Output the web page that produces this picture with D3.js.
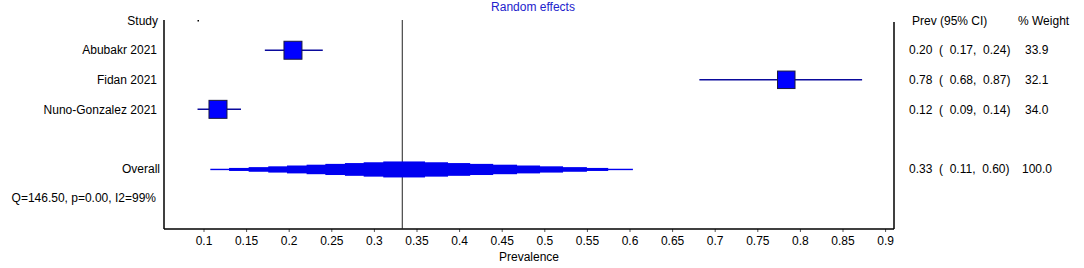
<!DOCTYPE html>
<html>
<head>
<meta charset="utf-8">
<script src="https://cdn.jsdelivr.net/npm/d3@7"></script>
<style>
  html, body { margin: 0; padding: 0; background: #fff; }
  svg { display: block; }
  text { font-family: "Liberation Sans", Arial, sans-serif; font-size: 12px; fill: #000; white-space: pre; }
</style>
</head>
<body>
<svg id="chart" width="1084" height="268"></svg>
<script>
// ---- data ----
const studies = ["Abubakr 2021", "Fidan 2021", "Nuno-Gonzalez 2021"];
const estimates = [0.205, 0.784, 0.117];
const lowerCI = [0.172, 0.682, 0.093];
const upperCI = [0.240, 0.873, 0.144];
const weights = [33.9, 32.1, 34.0];
const ciLabels = ["0.20  (  0.17,  0.24)", "0.78  (  0.68,  0.87)", "0.12  (  0.09,  0.14)"];
const weightLabels = ["33.9", "32.1", "34.0"];

const overallEstimate = 0.3333;
const overallLabel = "0.33  (  0.11,  0.60)";
const overallWeightLabel = "100.0";
// stepped overall band edges (inner to outer)
const overallBandLower = [0.311, 0.288, 0.266, 0.243, 0.221, 0.198, 0.176, 0.153, 0.130, 0.108];
const overallBandUpper = [0.360, 0.387, 0.413, 0.440, 0.468, 0.495, 0.522, 0.550, 0.575, 0.604];

const heterogeneity = "Q=146.50, p=0.00, I2=99%";
const xTicks = [0.1, 0.15, 0.2, 0.25, 0.3, 0.35, 0.4, 0.45, 0.5, 0.55, 0.6, 0.65, 0.7, 0.75, 0.8, 0.85, 0.9];
const tickLabels = ["0.1", "0.15", "0.2", "0.25", "0.3", "0.35", "0.4", "0.45", "0.5", "0.55", "0.6", "0.65", "0.7", "0.75", "0.8", "0.85", "0.9"];

// ---- layout ----
const svg = d3.select("#chart");
svg.append("rect").attr("width", 1084).attr("height", 268).attr("fill", "#fff");

const plotLeft = 164, plotRight = 894, plotTop = 20, plotBottom = 229;
const x = d3.scaleLinear().domain([0.1, 0.9]).range([203.5, 885.1]);
const rows = ["Study", ...studies, "_gap", "Overall", "_Q"];
const y = d3.scalePoint().domain(rows).range([20.7, 198]);
const size = d3.scaleSqrt().domain([0, 34]).range([0, 18]);
const bandH = d3.scaleLinear().domain([0, overallBandLower.length - 1]).range([16, 1.4]);

const ciColor = "#0a0a9c", boxFill = "#0000ff";

// title
svg.append("text").attr("x", 533).attr("y", 7).attr("dy", "0.35em")
  .attr("text-anchor", "middle").style("fill", "#2222cc").text("Random effects");

// frame lines
svg.append("line").attr("x1", plotLeft).attr("x2", plotLeft).attr("y1", plotTop).attr("y2", plotBottom)
  .attr("stroke", "#000").attr("stroke-width", 1.5);
svg.append("line").attr("x1", plotRight).attr("x2", plotRight).attr("y1", plotTop + 2).attr("y2", plotBottom)
  .attr("stroke", "#000").attr("stroke-width", 1.5);

// x axis
const axis = d3.axisBottom(x).tickValues(xTicks).tickSize(3).tickSizeOuter(0)
  .tickFormat((d, i) => tickLabels[i]);
const gx = svg.append("g").attr("transform", `translate(0,${plotBottom})`).call(axis);
gx.select(".domain").remove();
gx.selectAll(".tick line").attr("stroke", "#555");
gx.selectAll(".tick text").attr("y", 7).style("font-size", "12px")
  .style("font-family", "'Liberation Sans', Arial, sans-serif").attr("fill", "#000");
svg.append("line").attr("x1", plotLeft).attr("x2", plotRight).attr("y1", plotBottom).attr("y2", plotBottom)
  .attr("stroke", "#000").attr("stroke-width", 1.5);

svg.append("text").attr("x", (plotLeft + plotRight) / 2).attr("y", 257).attr("dy", "0.35em")
  .attr("text-anchor", "middle").text("Prevalence");

// null / overall line
svg.append("line").attr("x1", x(overallEstimate)).attr("x2", x(overallEstimate))
  .attr("y1", plotTop).attr("y2", plotBottom).attr("stroke", "#222").attr("stroke-width", 1);

// small marker at top
svg.append("rect").attr("x", 197.5).attr("y", 20).attr("width", 1.5).attr("height", 1.5).attr("fill", "#000");

// left labels
svg.append("text").attr("x", 158).attr("y", y("Study")).attr("dy", "0.35em").attr("text-anchor", "end").text("Study");
svg.selectAll(".study").data(studies).enter().append("text")
  .attr("x", 157).attr("y", d => y(d)).attr("dy", "0.35em").attr("text-anchor", "end").text(d => d);
svg.append("text").attr("x", 160).attr("y", y("Overall")).attr("dy", "0.35em").attr("text-anchor", "end").text("Overall");
svg.append("text").attr("x", 156).attr("y", y("_Q")).attr("dy", "0.35em").attr("text-anchor", "end").text(heterogeneity);

// CI lines
svg.selectAll(".ci").data(studies).enter().append("line")
  .attr("x1", (d, i) => x(lowerCI[i])).attr("x2", (d, i) => x(upperCI[i]))
  .attr("y1", d => y(d)).attr("y2", d => y(d))
  .attr("stroke", ciColor).attr("stroke-width", 1.5);
// boxes
svg.selectAll(".box").data(studies).enter().append("rect")
  .attr("x", (d, i) => x(estimates[i]) - size(weights[i]) / 2)
  .attr("y", (d, i) => y(d) - size(weights[i]) / 2)
  .attr("width", (d, i) => size(weights[i])).attr("height", (d, i) => size(weights[i]))
  .attr("fill", boxFill).attr("stroke", "#1a1a40").attr("stroke-width", 1);

// overall stepped band (outer first)
const bands = overallBandLower.map((lo, i) => ({ lo, hi: overallBandUpper[i], i })).reverse();
svg.selectAll(".band").data(bands).enter().append("rect")
  .attr("x", d => x(d.lo)).attr("width", d => x(d.hi) - x(d.lo))
  .attr("y", d => y("Overall") + 1 - bandH(d.i) / 2).attr("height", d => bandH(d.i))
  .attr("fill", "#0000f0");

// right table
svg.append("text").attr("x", 912).attr("y", y("Study")).attr("dy", "0.35em").text("Prev (95% CI)");
svg.append("text").attr("x", 1018).attr("y", y("Study")).attr("dy", "0.35em").text("% Weight");
svg.selectAll(".cil").data(studies).enter().append("text")
  .attr("x", 909).attr("y", d => y(d)).attr("dy", "0.35em").text((d, i) => ciLabels[i]);
svg.selectAll(".wl").data(studies).enter().append("text")
  .attr("x", 1025).attr("y", d => y(d)).attr("dy", "0.35em").text((d, i) => weightLabels[i]);
svg.append("text").attr("x", 909).attr("y", y("Overall")).attr("dy", "0.35em").text(overallLabel);
svg.append("text").attr("x", 1022).attr("y", y("Overall")).attr("dy", "0.35em").text(overallWeightLabel);
</script>
</body>
</html>
